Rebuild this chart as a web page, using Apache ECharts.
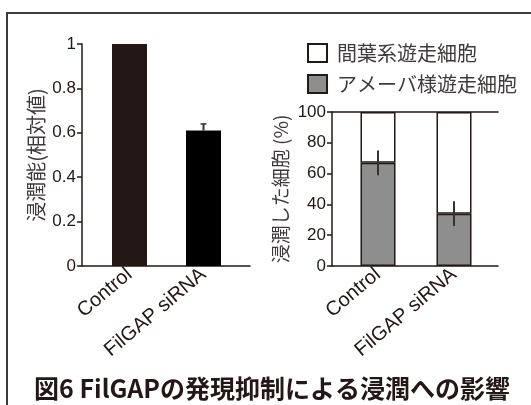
<!DOCTYPE html>
<html>
<head>
<meta charset="utf-8">
<script src="https://cdn.jsdelivr.net/npm/echarts@6/dist/echarts.min.js"></script>
<style>
  html, body { margin: 0; padding: 0; background: #fff; }
  #main { width: 531px; height: 405px; }
</style>
</head>
<body>
<div id="main"></div>
<script>
// data
const groups = ['Control', 'FilGAP siRNA']
const invasion = [1, 0.61]          // 浸潤能 (相対値)
const invasionErr = [0, 0.03]
const amoeboid = [67, 34]           // アメーバ様遊走細胞 (%)
const amoeboidErr = [8, 8]
const mesenchymal = [33, 66]        // 間葉系遊走細胞 (%)

const FONT = "'Liberation Sans', 'Noto Sans CJK JP', sans-serif"
const JP = "'Noto Sans CJK JP', sans-serif"
const INK = '#231815'

let chart = echarts.init(document.getElementById('main'))

// error bar drawer (cap = half width of the top cap, 0 = none)
function errBar (cap) {
  return function (params, api) {
    const lo = api.coord([api.value(0), api.value(1)])
    const hi = api.coord([api.value(0), api.value(2)])
    const kids = [{
      type: 'line',
      shape: { x1: lo[0], y1: lo[1], x2: hi[0], y2: hi[1] },
      style: { stroke: '#333', lineWidth: 2 }
    }]
    if (cap) {
      kids.push({
        type: 'line',
        shape: { x1: hi[0] - cap, y1: hi[1], x2: hi[0] + cap, y2: hi[1] },
        style: { stroke: '#333', lineWidth: 1.5 }
      })
    }
    return { type: 'group', children: kids }
  }
}

const yLabel = { fontSize: 17, color: INK, fontFamily: FONT, margin: 6 }
const xLabel = { fontSize: 20, color: INK, fontFamily: FONT, rotate: 40, margin: 6 }
const axLine = { lineStyle: { color: INK, width: 1.5 } }

chart.setOption({
  animation: false,
  textStyle: { fontFamily: FONT },
  graphic: [{
    type: 'rect',
    shape: { x: 7, y: 13, width: 560, height: 420 },
    style: { fill: 'none', stroke: '#3e3a39', lineWidth: 2 },
    silent: true
  }],
  title: {
    text: '図6 FilGAPの発現抑制による浸潤への影響',
    left: 29,
    top: 371,
    textStyle: { fontSize: 25, fontWeight: 'bold', color: INK, fontFamily: JP }
  },
  legend: {
    data: ['間葉系遊走細胞', 'アメーバ様遊走細胞'],
    orient: 'vertical',
    left: 302,
    top: 38,
    icon: 'rect',
    itemWidth: 19,
    itemHeight: 18,
    itemGap: 11,
    selectedMode: false,
    textStyle: { fontSize: 20, color: '#3e3a39', fontFamily: JP, padding: [0, 0, 0, 5] }
  },
  grid: [
    { left: 92.5, top: 44, width: 148, height: 222 },   // left bars
    { left: 340, top: 112, width: 152, height: 154 },   // right bars
    { left: 82, top: 44, width: 168, height: 222 },     // left baseline
    { left: 332, top: 112, width: 166, height: 154 }    // right frame lines
  ],
  xAxis: [
    { gridIndex: 0, type: 'category', data: groups, axisLine: { show: false }, axisTick: { show: false }, axisLabel: xLabel },
    { gridIndex: 1, type: 'category', data: groups, axisLine: { show: false }, axisTick: { show: false }, axisLabel: xLabel },
    { gridIndex: 2, type: 'value', min: 0, max: 1, position: 'bottom', axisLine: { show: true, onZero: false, ...axLine }, axisTick: { show: false }, axisLabel: { show: false }, splitLine: { show: false } },
    { gridIndex: 3, type: 'value', min: 0, max: 1, position: 'bottom', axisLine: { show: true, onZero: false, ...axLine }, axisTick: { show: false }, axisLabel: { show: false }, splitLine: { show: false } },
    { gridIndex: 3, type: 'value', min: 0, max: 1, position: 'top', axisLine: { show: true, onZero: false, ...axLine }, axisTick: { show: false }, axisLabel: { show: false }, splitLine: { show: false } }
  ],
  yAxis: [
    {
      gridIndex: 0, type: 'value', min: 0, max: 1, interval: 0.2, offset: 10.5,
      name: '浸潤能(相対値)', nameLocation: 'middle', nameGap: 36,
      nameTextStyle: { fontSize: 20, color: '#3e3a39', fontFamily: JP },
      axisLine: { show: true, ...axLine },
      axisTick: { show: true, length: 5, lineStyle: { color: INK, width: 1.5 } },
      axisLabel: yLabel,
      splitLine: { show: false }
    },
    {
      gridIndex: 1, type: 'value', min: 0, max: 100, interval: 20, offset: 8,
      name: '浸潤した細胞 (%)', nameLocation: 'middle', nameGap: 42,
      nameTextStyle: { fontSize: 19, color: '#3e3a39', fontFamily: JP },
      axisLine: { show: true, ...axLine },
      axisTick: { show: true, length: 5, lineStyle: { color: INK, width: 1.5 } },
      axisLabel: yLabel,
      splitLine: { show: false }
    },
    { gridIndex: 2, type: 'value', min: 0, max: 1, show: false },
    { gridIndex: 3, type: 'value', min: 0, max: 1, show: false }
  ],
  series: [
    {
      type: 'bar',
      xAxisIndex: 0,
      yAxisIndex: 0,
      barWidth: 35,
      data: invasion.map((v, i) => ({ value: v, itemStyle: { color: i === 0 ? INK : '#000' } }))
    },
    {
      type: 'custom',
      xAxisIndex: 0,
      yAxisIndex: 0,
      z: 10,
      renderItem: errBar(3),
      data: invasion.map((v, i) => [i, v, v + invasionErr[i]]).filter((d, i) => invasionErr[i] > 0)
    },
    {
      name: 'アメーバ様遊走細胞',
      type: 'bar',
      stack: 'cells',
      xAxisIndex: 1,
      yAxisIndex: 1,
      barWidth: 35,
      itemStyle: { color: '#8e8e8e', borderColor: INK, borderWidth: 1.5 },
      data: amoeboid
    },
    {
      name: '間葉系遊走細胞',
      type: 'bar',
      stack: 'cells',
      xAxisIndex: 1,
      yAxisIndex: 1,
      barWidth: 35,
      itemStyle: { color: '#fff', borderColor: INK, borderWidth: 1.5 },
      data: mesenchymal
    },
    {
      type: 'custom',
      xAxisIndex: 1,
      yAxisIndex: 1,
      z: 10,
      renderItem: errBar(0),
      data: amoeboid.map((v, i) => [i, v - amoeboidErr[i], v + amoeboidErr[i]])
    }
  ]
})
</script>
</body>
</html>
